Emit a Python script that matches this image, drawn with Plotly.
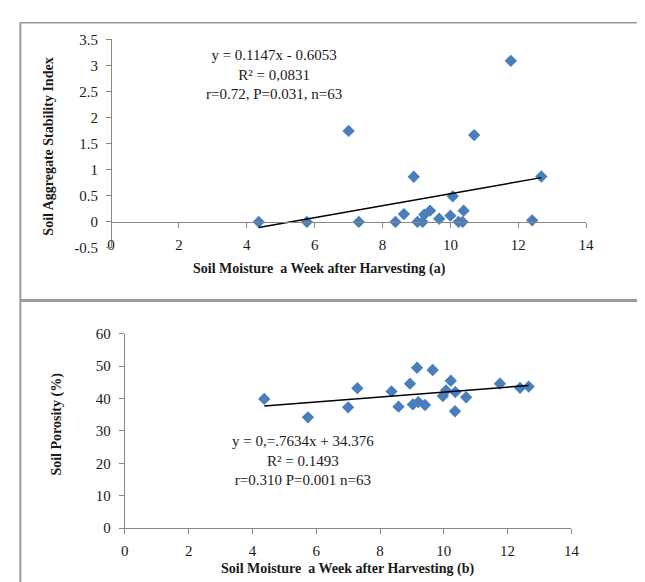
import plotly.graph_objects as go

W, H = 645, 582

# ---- Data: panel (a) ----
moisture_a = [4.35, 5.77, 7.00, 7.30, 8.38, 8.63, 8.92, 9.03, 9.18, 9.23, 9.40,
              9.67, 10.00, 10.07, 10.24, 10.36, 10.39, 10.70, 11.78, 12.41, 12.68]
stability = [0.0, 0.0, 1.745, 0.0, 0.0, 0.15, 0.865, 0.0, 0.0, 0.14, 0.215,
             0.06, 0.12, 0.49, 0.0, 0.0, 0.215, 1.665, 3.09, 0.03, 0.87]
slope_a, intercept_a = 0.1147, -0.6053

# ---- Data: panel (b) ----
moisture_b = [4.37, 5.74, 7.00, 7.29, 8.36, 8.58, 8.94, 9.03, 9.16, 9.20, 9.41,
              9.65, 9.97, 10.07, 10.22, 10.36, 10.35, 10.70, 11.76, 12.39, 12.66]
porosity = [39.9, 34.2, 37.3, 43.2, 42.2, 37.5, 44.6, 38.2, 49.5, 38.9, 38.0,
            48.8, 40.8, 42.5, 45.5, 42.0, 36.1, 40.4, 44.6, 43.3, 43.7]
slope_b, intercept_b = 0.7634, 34.376

x_ticks = [0, 2, 4, 6, 8, 10, 12, 14]
y_ticks_a = [-0.5, 0, 0.5, 1, 1.5, 2, 2.5, 3, 3.5]
y_tick_text_a = ["-0.5", "0", "0.5", "1", "1.5", "2", "2.5", "3", "3.5"]
y_ticks_b = [0, 10, 20, 30, 40, 50, 60]

title_x_a = "Soil Moisture  a Week after Harvesting (a)"
title_x_b = "Soil Moisture  a Week after Harvesting (b)"
title_y_a = "Soil Aggregate Stability Index"
title_y_b = "Soil Porosity (%)"
eq_a = "y = 0.1147x - 0.6053<br>R² = 0,0831<br>r=0.72, P=0.031, n=63"
eq_b = "y = 0,=.7634x + 34.376<br>R² = 0.1493<br>r=0.310 P=0.001 n=63"

FONT = "Liberation Serif, Times New Roman, serif"
BLUE = "#4a7ebb"
AX = "#868686"


def px(x):
    return x / W


def py(y):
    return 1 - y / H


fig = go.Figure()

fig.add_trace(go.Scatter(x=moisture_a, y=stability, mode="markers",
                         marker=dict(symbol="diamond", size=9.5, color=BLUE),
                         xaxis="x", yaxis="y", showlegend=False))
xa0, xa1 = min(moisture_a), max(moisture_a)
fig.add_trace(go.Scatter(x=[xa0, xa1],
                         y=[slope_a * xa0 + intercept_a, slope_a * xa1 + intercept_a],
                         mode="lines", line=dict(color="black", width=1.5),
                         xaxis="x", yaxis="y", showlegend=False))

fig.add_trace(go.Scatter(x=moisture_b, y=porosity, mode="markers",
                         marker=dict(symbol="diamond", size=9.5, color=BLUE),
                         xaxis="x2", yaxis="y2", showlegend=False))
xb0, xb1 = min(moisture_b), max(moisture_b)
fig.add_trace(go.Scatter(x=[xb0, xb1],
                         y=[slope_b * xb0 + intercept_b, slope_b * xb1 + intercept_b],
                         mode="lines", line=dict(color="black", width=1.5),
                         xaxis="x2", yaxis="y2", showlegend=False))

common = dict(showgrid=False, zeroline=False, showline=True, linecolor=AX,
              linewidth=1, ticks="outside", ticklen=5, tickcolor=AX,
              tickfont=dict(family=FONT, size=15, color="#1a1a1a"))

top_x0, top_x1 = 101, 585
top_y_top, top_y_bot, top_y_zero = 24.1, 238.5, 211.7
bot_x0, bot_x1 = 115, 570
bot_y_top, bot_y_bot = 326.7, 526.7

fig.update_layout(
    width=W, height=H, autosize=False,
    margin=dict(l=0, r=0, t=0, b=0),
    paper_bgcolor="white", plot_bgcolor="white",
    font=dict(family=FONT, color="#1a1a1a"),
    xaxis=dict(domain=[px(top_x0), px(top_x1)], range=[0, 14], tickvals=x_ticks,
               anchor="free", position=py(top_y_zero), ticklabelstandoff=4, **common),
    yaxis=dict(domain=[py(top_y_bot), py(top_y_top)], range=[-0.5, 3.5],
               tickvals=y_ticks_a, ticktext=y_tick_text_a,
               anchor="free", position=px(top_x0), ticklabelstandoff=5, **common),
    xaxis2=dict(domain=[px(bot_x0), px(bot_x1)], range=[0, 14], tickvals=x_ticks,
                anchor="y2", ticklabelstandoff=4, **common),
    yaxis2=dict(domain=[py(bot_y_bot), py(bot_y_top)], range=[0, 60],
                tickvals=y_ticks_b, anchor="x2", ticklabelstandoff=5, **common),
)

ann = []
bold = dict(family=FONT, size=14, color="#1a1a1a")
ann.append(dict(x=px(313), y=py(260), text="<b>" + title_x_a + "</b>", showarrow=False,
                xref="paper", yref="paper", xanchor="center", yanchor="middle", font=bold))
ann.append(dict(x=px(342), y=py(569), text="<b>" + title_x_b + "</b>", showarrow=False,
                xref="paper", yref="paper", xanchor="center", yanchor="middle", font=bold))
ann.append(dict(x=px(37), y=py(134), text="<b>" + title_y_a + "</b>", showarrow=False,
                textangle=-90, xref="paper", yref="paper", xanchor="center",
                yanchor="middle", font=bold))
ann.append(dict(x=px(46), y=py(420), text="<b>" + title_y_b + "</b>", showarrow=False,
                textangle=-90, xref="paper", yref="paper", xanchor="center",
                yanchor="middle", font=bold))
eqfont = dict(family=FONT, size=15, color="#1a1a1a")
ann.append(dict(x=px(267), y=py(60), text=eq_a, showarrow=False, align="center",
                xref="paper", yref="paper", xanchor="center", yanchor="middle", font=eqfont))
ann.append(dict(x=px(297), y=py(457), text=eq_b, showarrow=False, align="center",
                xref="paper", yref="paper", xanchor="center", yanchor="middle", font=eqfont))
fig.update_layout(annotations=ann)

shapes = [
    dict(type="line", xref="paper", yref="paper", x0=px(8), x1=1, y0=py(7), y1=py(7),
         line=dict(color="#9a9a9a", width=1.5)),
    dict(type="line", xref="paper", yref="paper", x0=px(8.5), x1=px(8.5), y0=py(7), y1=0,
         line=dict(color="#9a9a9a", width=2)),
    dict(type="line", xref="paper", yref="paper", x0=px(8), x1=1, y0=py(292.5), y1=py(292.5),
         line=dict(color="#9a9a9a", width=3)),
]
fig.update_layout(shapes=shapes)

fig.write_html("out.html")
